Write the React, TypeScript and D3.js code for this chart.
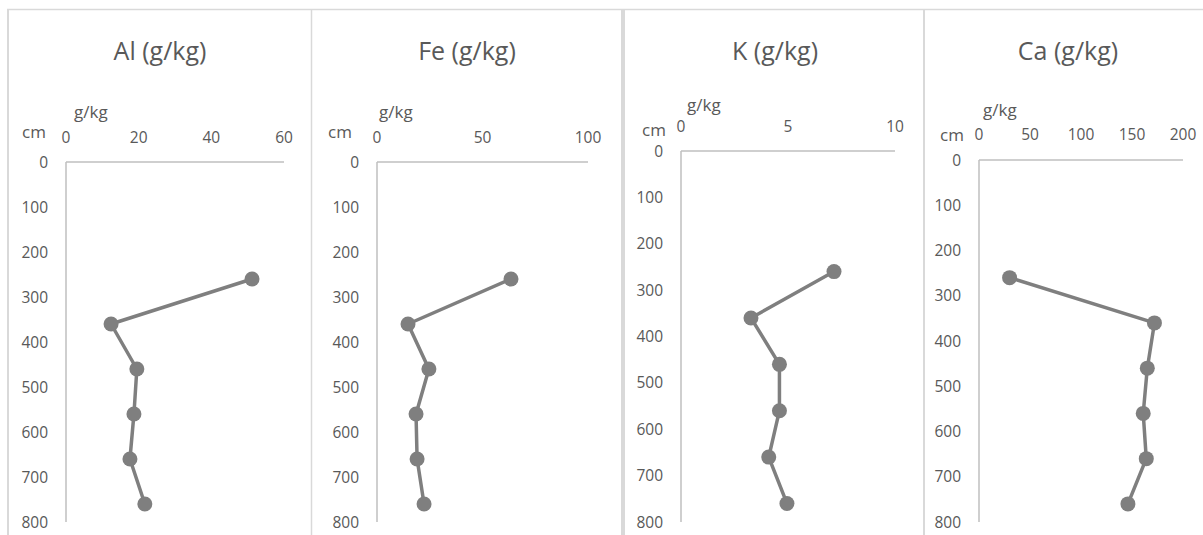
import React from "react";
import * as d3 from "d3";

const depths = [260, 360, 460, 560, 660, 760];
const alValues = [51.2, 12.4, 19.5, 18.7, 17.6, 21.7];
const feValues = [63.5, 14.7, 24.6, 18.5, 19.0, 22.3];
const kValues = [7.15, 3.27, 4.6, 4.6, 4.1, 4.95];
const caValues = [30, 172, 165, 161, 164, 146];

const titles = ["Al (g/kg)", "Fe (g/kg)", "K (g/kg)", "Ca (g/kg)"];
const alTicks = [0, 20, 40, 60];
const feTicks = [0, 50, 100];
const kTicks = [0, 5, 10];
const caTicks = [0, 50, 100, 150, 200];
const depthTicks = [0, 100, 200, 300, 400, 500, 600, 700, 800];

const seriesValues = [alValues, feValues, kValues, caValues];
const seriesTicks = [alTicks, feTicks, kTicks, caTicks];

// layout (pixel positions of each sub-chart)
const layout = [
  { axisX: 66, axisRight: 284, axisTop: 162, titleX: 160, cmX: 34, cmY: 138, gkgX: 74, gkgY: 118, tickY: 143 },
  { axisX: 377, axisRight: 588, axisTop: 162, titleX: 467, cmX: 340, cmY: 138, gkgX: 379, gkgY: 118, tickY: 143 },
  { axisX: 681, axisRight: 895, axisTop: 151, titleX: 775, cmX: 654, cmY: 136, gkgX: 687, gkgY: 111, tickY: 132 },
  { axisX: 979, axisRight: 1183, axisTop: 160, titleX: 1068, cmX: 952, cmY: 141, gkgX: 983, gkgY: 116, tickY: 140 },
];
const axisBottom = 522;
const borders = [
  { x: 8, w: 2 },
  { x: 311.5, w: 1.5 },
  { x: 623, w: 4 },
  { x: 924, w: 2 },
];

const FONT = "'Open Sans', 'Noto Sans', sans-serif";
const TEXT = "#595959";
const AXIS = "#bfbfbf";
const BORDER = "#d9d9d9";
const LINE = "#7f7f7f";

export default function App() {
  return (
    <svg
      width={1203}
      height={535}
      style={{ position: "absolute", left: 0, top: 0, background: "#fff" }}
      fontFamily={FONT}
    >
      <rect x={0} y={0} width={1203} height={535} fill="#fff" />
      <line x1={7} x2={1203} y1={9.5} y2={9.5} stroke={BORDER} strokeWidth={1.5} />
      {borders.map((b, i) => (
        <line key={i} x1={b.x} x2={b.x} y1={9} y2={535} stroke={BORDER} strokeWidth={b.w} />
      ))}
      {layout.map((L, i) => {
        const ticks = seriesTicks[i];
        const xs = d3
          .scaleLinear()
          .domain([0, ticks[ticks.length - 1]])
          .range([L.axisX, L.axisRight]);
        const ys = d3.scaleLinear().domain([0, 800]).range([L.axisTop, axisBottom]);
        const vals = seriesValues[i];
        const pts: [number, number][] = depths.map((d, j) => [xs(vals[j]), ys(d)]);
        const path = d3.line()(pts) || "";
        return (
          <g key={i}>
            <text x={L.titleX} y={60} textAnchor="middle" fontSize={25} fill={TEXT}>
              {titles[i]}
            </text>
            <text x={L.gkgX} y={L.gkgY} fontSize={17} fill={TEXT}>
              g/kg
            </text>
            <text x={L.cmX} y={L.cmY} fontSize={17} fill={TEXT} textAnchor="middle">
              cm
            </text>
            <line x1={L.axisX} x2={L.axisRight} y1={L.axisTop} y2={L.axisTop} stroke={AXIS} strokeWidth={1.5} />
            <line x1={L.axisX} x2={L.axisX} y1={L.axisTop} y2={axisBottom} stroke={AXIS} strokeWidth={1.5} />
            {ticks.map((t) => (
              <text key={t} x={xs(t)} y={L.tickY} textAnchor="middle" fontSize={15.5} fill={TEXT}>
                {t}
              </text>
            ))}
            {depthTicks.map((t) => (
              <text
                key={t}
                x={L.axisX - 18}
                y={ys(t)}
                dy="0.36em"
                textAnchor="end"
                fontSize={15.5}
                fill={TEXT}
              >
                {t}
              </text>
            ))}
            <path d={path} fill="none" stroke={LINE} strokeWidth={3.5} strokeLinejoin="round" />
            {pts.map((p, j) => (
              <circle key={j} cx={p[0]} cy={p[1]} r={7.5} fill={LINE} />
            ))}
          </g>
        );
      })}
    </svg>
  );
}
